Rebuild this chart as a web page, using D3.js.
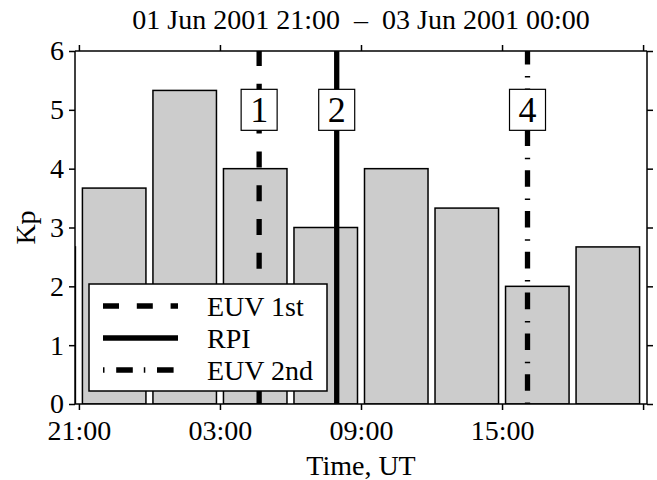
<!DOCTYPE html>
<html><head><meta charset="utf-8">
<script src="https://cdn.jsdelivr.net/npm/d3@7"></script>
<style>
body{margin:0;background:#fff;}
svg{display:block;}
text{font-family:"Liberation Serif","DejaVu Serif",serif;fill:#000;}
</style></head>
<body><svg id="c" width="657" height="480"></svg>
<script>
const titleText = "01 Jun 2001 21:00  \u2013  03 Jun 2001 00:00";
const binStarts = ["2001-06-01T18:00Z","2001-06-01T21:00Z","2001-06-02T00:00Z","2001-06-02T03:00Z","2001-06-02T06:00Z","2001-06-02T09:00Z","2001-06-02T12:00Z","2001-06-02T15:00Z","2001-06-02T18:00Z"];
const kpValues = [2.67, 3.67, 5.33, 4.0, 3.0, 4.0, 3.33, 2.0, 2.67];
const eventTimes = ["2001-06-02T04:40Z","2001-06-02T07:58Z","2001-06-02T16:05Z"];
const eventLabels = ["1","2","4"];
const eventTypes = ["EUV 1st","RPI","EUV 2nd"];
const xTicks = ["2001-06-01T21:00Z","2001-06-02T03:00Z","2001-06-02T09:00Z","2001-06-02T15:00Z","2001-06-02T21:00Z"];
const xTickLabels = ["21:00","03:00","09:00","15:00",""];
const yTicks = [0,1,2,3,4,5,6];

const dashes = {"EUV 1st":"16,17.8", "RPI":null, "EUV 2nd":"1.5,11.7,16.6,11"};

const svg = d3.select("#c");
const L=75, R=647, T=51, B=404;
const FS = 28;
const x = d3.scaleUtc().domain([new Date("2001-06-01T20:50Z"), new Date("2001-06-02T21:10Z")]).range([L,R]);
const y = d3.scaleLinear().domain([0,6]).range([B,T]);
const HOUR = 3600e3;

svg.append("defs").append("clipPath").attr("id","pc").append("rect")
  .attr("x",L).attr("y",T).attr("width",R-L).attr("height",B-T);

const g = svg.append("g").attr("clip-path","url(#pc)");
const bars = binStarts.map((s,i)=>({t:new Date(s), v:kpValues[i]}));
const inset = 3.5;
g.selectAll("rect.bar").data(bars).join("rect").attr("class","bar")
  .attr("x", d=>x(d.t)+inset)
  .attr("width", d=>x(new Date(+d.t+3*HOUR))-x(d.t)-2*inset)
  .attr("y", d=>y(d.v))
  .attr("height", d=>y(0)-y(d.v))
  .attr("fill","#cccccc").attr("stroke","#000").attr("stroke-width",1.5);

// event lines
eventTimes.forEach((t,i)=>{
  const xx = x(new Date(t));
  const ln = g.append("line").attr("x1",xx).attr("x2",xx).attr("y1",y(0)).attr("y2",y(6))
    .attr("stroke","#000").attr("stroke-width",5.3);
  const da = dashes[eventTypes[i]];
  if(da) ln.attr("stroke-dasharray",da);
  g.append("rect").attr("x",xx-18).attr("y",y(5)-20.5).attr("width",36).attr("height",41)
    .attr("fill","#fff").attr("stroke","#000").attr("stroke-width",1.2);
  g.append("text").attr("x",xx).attr("y",y(5)+12.5).attr("text-anchor","middle")
    .attr("font-size",36).text(eventLabels[i]);
});

// axes
const tickDates = xTicks.map(s=>new Date(s));
const xb = d3.axisBottom(x).tickValues(tickDates).tickSize(6).tickPadding(10)
  .tickFormat((d,i)=>xTickLabels[i]);
svg.append("g").attr("transform",`translate(0,${B})`).call(xb)
  .call(a=>a.select(".domain").attr("d",`M${L},0H${R}`));
const xt = d3.axisTop(x).tickValues(tickDates).tickSize(6).tickFormat("");
svg.append("g").attr("transform",`translate(0,${T})`).call(xt)
  .call(a=>a.select(".domain").attr("d",`M${L},0H${R}`));
const yl = d3.axisLeft(y).tickValues(yTicks).tickSize(6).tickPadding(5).tickFormat(d3.format("d"));
svg.append("g").attr("transform",`translate(${L},0)`).call(yl)
  .call(a=>a.select(".domain").attr("d",`M0,${T}V${B}`));
const yr = d3.axisRight(y).tickValues(yTicks).tickSize(6).tickFormat("");
svg.append("g").attr("transform",`translate(${R},0)`).call(yr)
  .call(a=>a.select(".domain").attr("d",`M0,${T}V${B}`));
svg.selectAll(".tick line, .domain").attr("stroke","#000").attr("stroke-width",1.5);
svg.selectAll(".tick text").attr("font-family","'Liberation Serif','DejaVu Serif',serif")
  .attr("font-size",FS).attr("fill","#000");

// titles
svg.append("text").attr("x",(L+R)/2).attr("y",29).attr("text-anchor","middle").attr("font-size",FS)
  .style("white-space","pre").attr("xml:space","preserve").text(titleText);
svg.append("text").attr("x",(L+R)/2).attr("y",475).attr("text-anchor","middle").attr("font-size",FS).text("Time, UT");
svg.append("text").attr("transform",`translate(35,${(T+B)/2}) rotate(-90)`).attr("text-anchor","middle").attr("font-size",FS).text("Kp");

// legend
const lg = svg.append("g");
lg.append("rect").attr("x",89).attr("y",284).attr("width",238).attr("height",107)
  .attr("fill","#fff").attr("stroke","#000").attr("stroke-width",1.5);
eventTypes.forEach((t,i)=>{
  const yy = 306 + i*32;
  const ln = lg.append("line").attr("x1",103).attr("x2",178).attr("y1",yy).attr("y2",yy)
    .attr("stroke","#000").attr("stroke-width",5.3);
  if(dashes[t]) ln.attr("stroke-dasharray",dashes[t]);
  lg.append("text").attr("x",207).attr("y",yy+10).attr("font-size",FS).text(t);
});
</script></body></html>
